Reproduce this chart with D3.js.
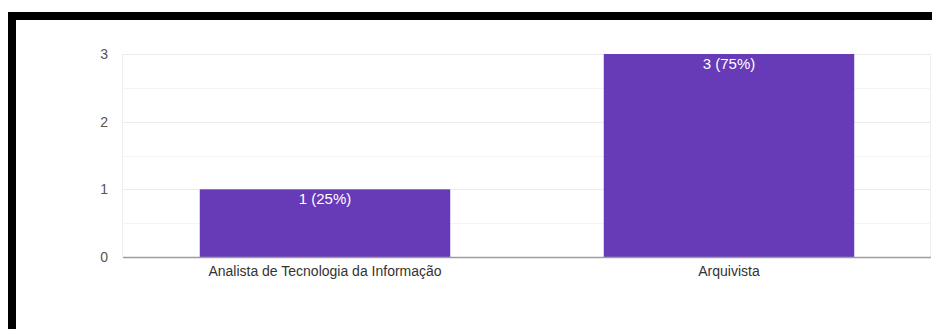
<!DOCTYPE html>
<html>
<head>
<meta charset="utf-8">
<title>Cargo</title>
<script src="https://d3js.org/d3.v7.min.js"></script>
<style>
  body { margin: 0; background: #fff; }
  svg { display: block; font-family: Arial, "Liberation Sans", sans-serif; }
</style>
</head>
<body>
<svg id="chart"></svg>
<script>
// dados
var categories = ["Analista de Tecnologia da Informação", "Arquivista"];
var counts = [1, 3];
var percents = ["25%", "75%"];
var yTicks = [0, 1, 2, 3];

var W = 932, H = 329;
var margin = { top: 54, right: 1, bottom: 72, left: 123 };
var width = W - margin.left - margin.right,
    height = H - margin.top - margin.bottom;

var svg = d3.select("#chart").attr("width", W).attr("height", H);

// moldura preta (recorte da captura)
svg.append("rect").attr("x", 8).attr("y", 12).attr("width", W - 8).attr("height", 8).attr("fill", "#000");
svg.append("rect").attr("x", 8).attr("y", 12).attr("width", 8).attr("height", H - 12).attr("fill", "#000");

var g = svg.append("g").attr("transform", "translate(" + margin.left + "," + margin.top + ")");

var x = d3.scaleBand()
    .domain(categories)
    .range([0, width])
    .paddingInner(0.38)
    .paddingOuter(0.19);

var y = d3.scaleLinear()
    .domain([0, 3])
    .range([height, 0]);

// linhas de grade menores
g.selectAll(".minor")
    .data([0.5, 1.5, 2.5])
    .enter().append("line")
    .attr("x1", 0).attr("x2", width)
    .attr("y1", d => Math.round(y(d)) + 0.5).attr("y2", d => Math.round(y(d)) + 0.5)
    .attr("stroke", "#f4f4f4");

// linhas de grade principais
g.selectAll(".major")
    .data(yTicks.slice(1))
    .enter().append("line")
    .attr("x1", 0).attr("x2", width)
    .attr("y1", d => Math.round(y(d)) + 0.5).attr("y2", d => Math.round(y(d)) + 0.5)
    .attr("stroke", "#ebebeb");

// bordas laterais claras
g.selectAll(".side")
    .data([0, width])
    .enter().append("line")
    .attr("x1", d => d - 0.5).attr("x2", d => d - 0.5)
    .attr("y1", 0).attr("y2", height)
    .attr("stroke", "#efefef");

// barras
g.selectAll(".bar")
    .data(counts)
    .enter().append("rect")
    .attr("x", (d, i) => x(categories[i]))
    .attr("y", d => y(d))
    .attr("width", x.bandwidth())
    .attr("height", d => height - y(d))
    .attr("fill", "#673ab7");

// rótulos das barras
g.selectAll(".lbl")
    .data(counts)
    .enter().append("text")
    .attr("x", (d, i) => x(categories[i]) + x.bandwidth() / 2)
    .attr("y", d => y(d) + 15)
    .attr("text-anchor", "middle")
    .attr("fill", "#fff")
    .style("font-size", "15px")
    .text((d, i) => d + " (" + percents[i] + ")");

// linha de base
g.append("line")
    .attr("x1", 0).attr("x2", width)
    .attr("y1", height + 0.5).attr("y2", height + 0.5)
    .attr("stroke", "#9e9e9e")
    .attr("stroke-width", 1.5);

// eixo Y
g.selectAll(".ytick")
    .data(yTicks)
    .enter().append("text")
    .attr("x", -15)
    .attr("y", d => y(d))
    .attr("dy", "0.35em")
    .attr("text-anchor", "end")
    .attr("fill", "#555")
    .style("font-size", "14px")
    .text(d => d);

// eixo X
g.selectAll(".xtick")
    .data(categories)
    .enter().append("text")
    .attr("x", d => x(d) + x.bandwidth() / 2)
    .attr("y", height + 19)
    .attr("text-anchor", "middle")
    .attr("fill", "#333")
    .style("font-size", "14px")
    .text(d => d);
</script>
</body>
</html>
